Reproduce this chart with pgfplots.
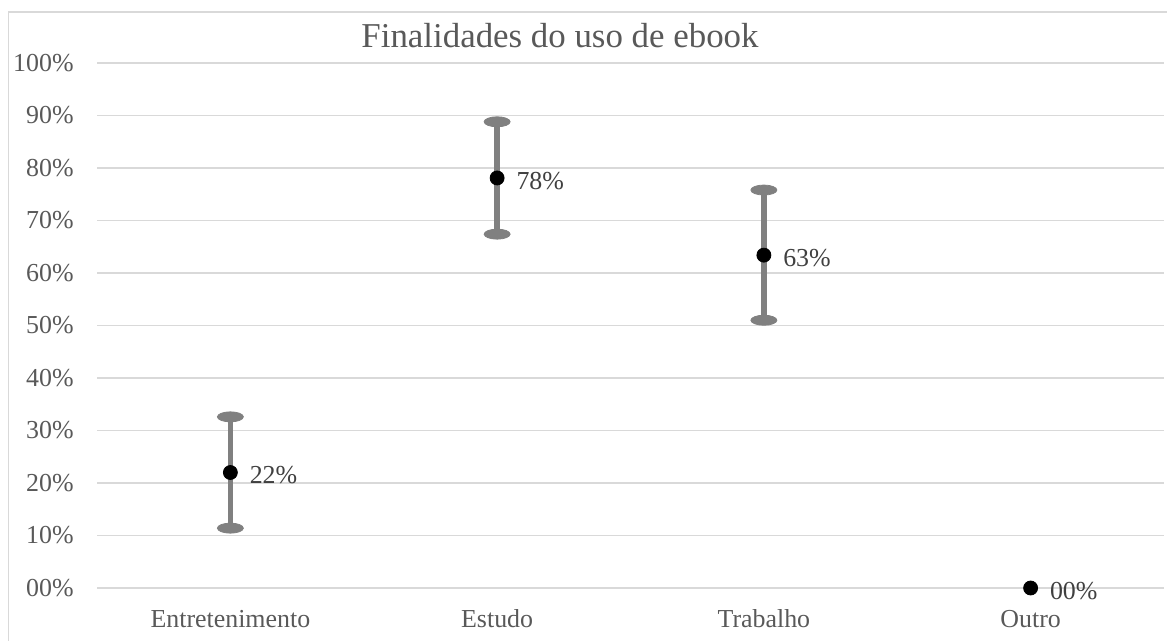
\documentclass[border=0pt]{standalone}
\usepackage{pgfplots}
\pgfplotsset{compat=1.18}
\usepackage{fontspec}
\setmainfont{Liberation Serif}
\definecolor{gridc}{HTML}{D9D9D9}
\definecolor{txt}{HTML}{595959}
\definecolor{lbl}{HTML}{404040}
\definecolor{errc}{HTML}{808080}

\begin{document}
\begin{tikzpicture}
\path[use as bounding box] (0,0) rectangle (583.5bp,320.5bp);
\draw[gridc, line width=0.75bp] (4.25bp,0) -- (4.25bp,314.5bp) -- (583.5bp,314.5bp);
\node[text=txt, font=\fontsize{17.5}{20}\selectfont] at (280bp,302.5bp) {Finalidades do uso de ebook};
\begin{axis}[
    at={(48.5bp,26.5bp)}, anchor=south west,
    scale only axis, width=533.5bp, height=262.5bp,
    xmin=0, xmax=4, ymin=0, ymax=100,
    clip=false,
    xtick={0.5,1.5,2.5,3.5},
    xticklabels={Entretenimento,Estudo,Trabalho,Outro},
    ytick={0,10,20,30,40,50,60,70,80,90,100},
    yticklabels={00\%,10\%,20\%,30\%,40\%,50\%,60\%,70\%,80\%,90\%,100\%},
    axis line style={draw=none},
    major tick length=0pt,
    ymajorgrids,
    grid style={gridc, line width=0.75bp},
    yticklabel style={anchor=east, inner sep=0pt, xshift=-11.5bp, text=txt, font=\fontsize{13}{15}\selectfont},
    xticklabel style={anchor=base, inner sep=0pt, yshift=-19.5bp, text=txt, font=\fontsize{13}{15}\selectfont},
]
% error bars
\addplot[draw=none, mark=none, forget plot,
    error bars/.cd, y dir=both, y explicit,
    error bar style={draw=errc, line width=2.75bp},
    error mark=*,
    error mark options={draw=errc, fill=errc, mark size=6.5bp, xscale=0.385}]
    coordinates {(0.5,22) +- (0,10.6) (1.5,78.1) +- (0,10.7) (2.5,63.4) +- (0,12.4)};
% points with labels
\addplot[only marks, mark=*, mark size=3.5bp, mark options={fill=black, draw=black},
    nodes near coords, point meta=explicit symbolic,
    nodes near coords style={anchor=west, inner sep=0pt, xshift=9.5bp, yshift=-1.5bp, text=lbl, font=\fontsize{13}{15}\selectfont}]
    coordinates {(0.5,22) [22\%] (1.5,78.1) [78\%] (2.5,63.4) [63\%] (3.5,0) [00\%]};
\end{axis}
\end{tikzpicture}
\end{document}
